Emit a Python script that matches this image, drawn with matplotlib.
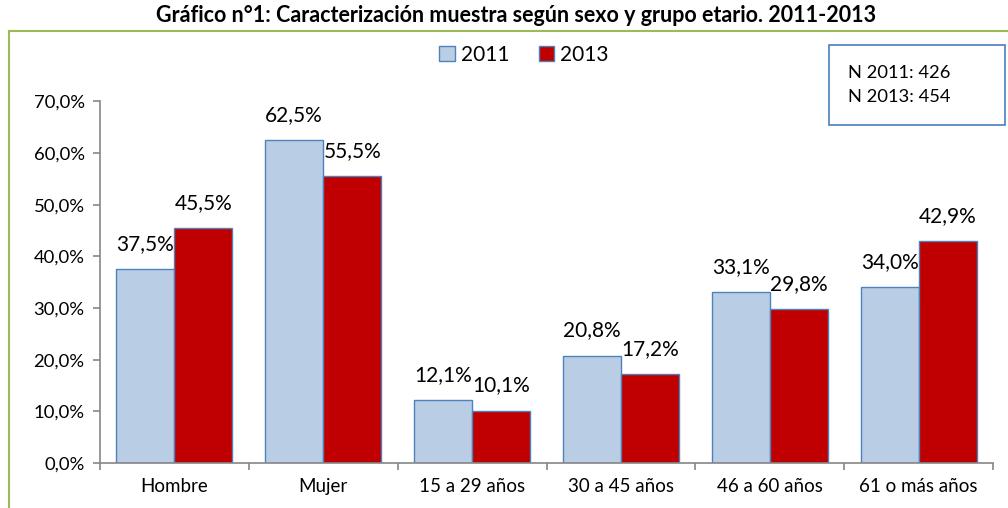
import matplotlib.pyplot as plt
import numpy as np
from matplotlib.lines import Line2D
from matplotlib.patches import Rectangle

plt.rcParams['font.family'] = ['Lato', 'DejaVu Sans']

categorias = ['Hombre', 'Mujer', '15 a 29 años', '30 a 45 años', '46 a 60 años', '61 o más años']
valores_2011 = [37.5, 62.5, 12.1, 20.8, 33.1, 34.0]
valores_2013 = [45.5, 55.5, 10.1, 17.2, 29.8, 42.9]
series = ['2011', '2013']

fig = plt.figure(figsize=(10.08, 5.08), dpi=100)
ax = fig.add_axes([0.0992, 0.0886, 0.886, 0.712])

x = np.arange(len(categorias))
w = 0.39
b1 = ax.bar(x - w / 2, valores_2011, w, color='#B9CDE5', edgecolor='#4F81BD', linewidth=1, label=series[0])
b2 = ax.bar(x + w / 2, valores_2013, w, color='#C00000', edgecolor='#4F81BD', linewidth=1, label=series[1])

for bars in (b1, b2):
    for r in bars:
        v = r.get_height()
        ax.annotate(f'{v:.1f}%'.replace('.', ','), (r.get_x() + r.get_width() / 2, v),
                    xytext=(0, 11), textcoords='offset points', ha='center', va='bottom', fontsize=15)

ax.set_xlim(-0.5, len(categorias) - 0.5)
ax.set_ylim(0, 70)
ax.set_yticks(np.arange(0, 71, 10))
ax.set_yticklabels([f'{v:.1f}%'.replace('.', ',') for v in np.arange(0, 71, 10)], fontsize=13.3)
ax.set_xticks(np.arange(-0.5, len(categorias), 1))
ax.set_xticklabels([])
ax.set_xticks(x, minor=True)
ax.set_xticklabels(categorias, minor=True, fontsize=13.5)
ax.tick_params(axis='x', which='minor', length=0, pad=11)
ax.tick_params(axis='both', which='major', length=5, color='#868686', width=1.2)
ax.tick_params(axis='y', pad=6)
for s in ('top', 'right'):
    ax.spines[s].set_visible(False)
for s in ('left', 'bottom'):
    ax.spines[s].set_color('#868686')
    ax.spines[s].set_linewidth(1.2)

leg = ax.legend(loc='center', ncol=2, frameon=False, fontsize=15, handlelength=0.75,
                handleheight=0.75, handletextpad=0.3, columnspacing=1.4)
leg.set_bbox_to_anchor((524 / 1008, 1 - 55 / 508), transform=fig.transFigure)

fig.text(516 / 1008, 1 - 16 / 508, 'Gráfico n°1: Caracterización muestra según sexo y grupo etario. 2011-2013',
         ha='center', va='center', fontsize=15.5, fontweight='bold')

# marco verde
fig.add_artist(Line2D([9 / 1008, 9 / 1008], [0, 1 - 31 / 508], color='#9BBB59', lw=1.5, transform=fig.transFigure))
fig.add_artist(Line2D([9 / 1008, 1], [1 - 31 / 508, 1 - 31 / 508], color='#9BBB59', lw=1.5, transform=fig.transFigure))

# cuadro N
fig.add_artist(Rectangle((829 / 1008, 1 - 125 / 508), 176 / 1008, 80 / 508, fill=False,
                         edgecolor='#4A7EBB', lw=1.2, transform=fig.transFigure))
fig.text(848 / 1008, 1 - 85 / 508, 'N 2011: 426\nN 2013: 454', ha='left', va='center',
         fontsize=13.2, linespacing=1.55)

fig.savefig('out.png', dpi=100)
